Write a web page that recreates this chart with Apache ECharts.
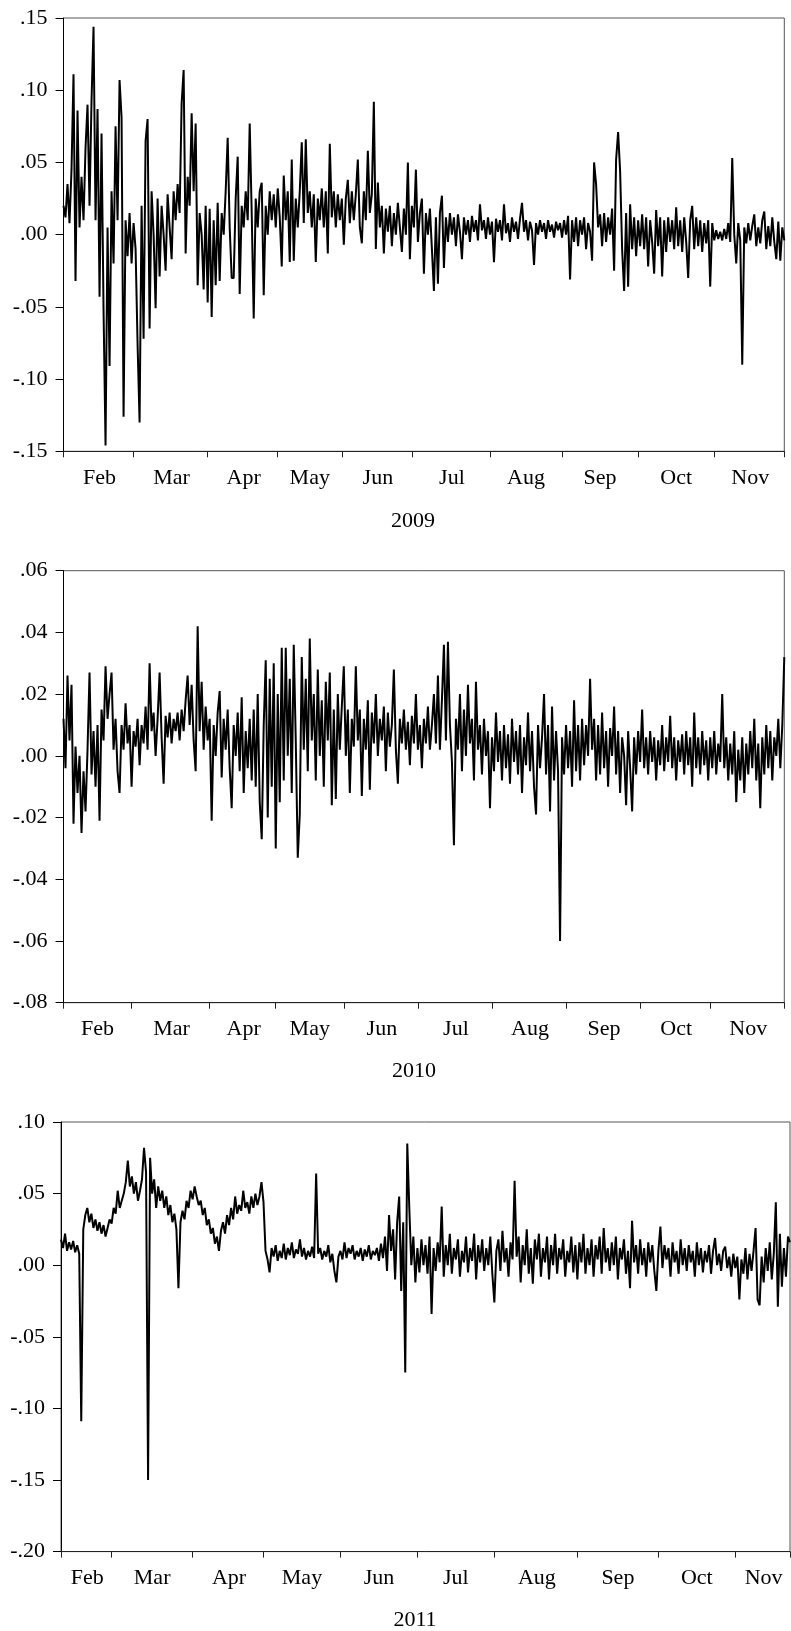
<!DOCTYPE html>
<html>
<head>
<meta charset="utf-8">
<script src="https://cdn.jsdelivr.net/npm/echarts@6/dist/echarts.min.js"></script>
<style>
  html, body { margin: 0; padding: 0; background: #fff; }
  #chart { width: 791px; height: 1631px; }
</style>
</head>
<body>
<div id="chart"></div>
<script>
// month names shown under every panel
const months = ['Feb', 'Mar', 'Apr', 'May', 'Jun', 'Jul', 'Aug', 'Sep', 'Oct', 'Nov'];
const years = ['2009', '2010', '2011'];

const monthCounts2009 = [35, 37, 35, 32, 35, 39, 36, 38, 38, 36];
const monthCounts2010 = [34, 39, 33, 34, 37, 37, 37, 37, 35, 38];
const monthCounts2011 = [25, 40, 35, 38, 38, 38, 41, 40, 38, 28];

// y axis ranges
const yRange2009 = [-0.15, 0.15, 0.05];
const yRange2010 = [-0.08, 0.06, 0.02];
const yRange2011 = [-0.20, 0.10, 0.05];

// series values
const values2009 = [
  .020, .012, .035, .008, .045, .111, -.032, .086, .005, .040,
  .010, .060, .090, .020, .093, .144, .010, .087, -.043, .070,
  -.052, -.146, .005, -.091, .030, -.020, .075, .010, .107, .081,
  -.126, .010, -.015, .015, -.020, .008, -.010, -.076, -.130, .020,
  -.072, .065, .080, -.065, .030, .000, -.051, .025, -.029, .020,
  .000, -.025, .028, .005, -.017, .030, .010, .035, .015, .091,
  .114, -.013, .040, .020, .084, .030, .077, -.035, .015, .000,
  -.038, .020, -.047, .018, -.057, .010, -.035, .022, -.032, .015,
  .000, .030, .067, .005, -.030, -.030, .025, .054, -.041, .020,
  .005, .030, .010, .077, .015, -.058, .025, .005, .030, .036,
  -.042, .020, .000, .030, .010, .028, .005, .032, .012, -.022,
  .041, .010, .030, -.019, .052, -.018, .025, .005, .030, .064,
  .008, .066, .015, .030, .005, .028, -.019, .025, .010, .032,
  .005, .030, -.013, .063, .012, .030, .005, .028, .010, .025,
  -.007, .025, .038, .008, .030, .010, .028, .052, .005, -.006,
  .030, .010, .058, .015, .028, .092, -.010, .036, .005, .020,
  -.013, .018, .002, .020, -.008, .015, .000, .022, .005, -.012,
  .018, .000, .050, -.017, .020, .005, .045, -.005, .015, .025,
  -.027, .015, .000, .018, -.010, -.039, .012, -.034, .015, .027,
  -.023, .012, -.005, .015, .000, .012, -.008, .014, .002, -.017,
  .012, .000, .010, -.005, .013, .002, .010, -.004, .021, .003,
  .010, -.003, .012, .000, .009, -.019, .011, .002, .010, -.004,
  .021, .001, .008, -.005, .012, .002, .009, -.003, .011, .022,
  .002, .010, -.004, .009, .003, -.021, .008, .000, .010, .002,
  .008, -.003, .010, .002, .007, -.002, .009, .003, .008, -.002,
  .010, .000, .013, -.031, .010, -.005, .012, -.008, .010, .000,
  .012, -.010, .008, .002, -.018, .050, .035, .005, .014, -.008,
  .015, -.005, .012, .000, .018, -.025, .052, .071, .044, -.010,
  -.039, .015, -.036, .021, -.010, .012, -.015, .010, -.008, .014,
  -.010, .012, -.022, .010, -.005, -.027, .017, -.008, .012, -.029,
  .010, -.012, .012, -.005, .010, -.010, .019, -.008, .010, -.012,
  .012, -.005, -.030, .010, .020, -.010, .012, -.008, .010, -.012,
  .008, -.006, .010, -.036, .008, -.004, .003, -.003, .002, -.004,
  .004, -.003, .008, -.005, .053, .000, -.020, .008, -.004, -.090,
  .005, -.006, .008, -.004, .006, .014, -.008, .005, -.006, .010,
  .016, -.010, .006, -.008, .012, -.005, -.017, .009, -.018, .005, -.004
];

const values2010 = [
  .012, -.004, .026, .005, .023, -.022, .003, -.012, .000, -.025,
  -.005, -.018, .002, .027, -.006, .008, -.010, .010, -.021, .015,
  .005, .029, .012, .020, .027, .002, .012, -.005, -.012, .010,
  .002, .017, .004, .010, -.010, .008, .003, .012, -.003, .010,
  .004, .016, .002, .030, .008, .014, .000, .012, .027, .006,
  -.009, .013, .006, .014, .004, .012, .008, .014, .005, .015,
  .008, .018, .026, .010, .023, .005, -.005, .042, .008, .024,
  .002, .016, .005, .012, -.021, .010, .000, .014, .021, -.007,
  .012, .002, .015, -.004, -.017, .010, .000, .014, -.005, .019,
  -.012, .008, -.004, .012, -.008, .015, -.010, .020, -.015, -.027,
  .010, .031, -.020, .025, -.010, .030, -.030, .020, -.015, .035,
  -.008, .035, .000, .025, -.012, .036, .005, -.033, -.019, .032,
  .002, .025, -.005, .038, .005, .020, -.008, .028, .000, .018,
  -.010, .024, .005, .027, -.016, .015, -.014, .020, .002, .016,
  .029, .000, .015, -.012, .012, .003, .029, .005, .015, -.013,
  .012, .002, .018, -.011, .014, .004, .020, .000, .012, .005,
  .016, -.005, .014, .003, .010, .028, .002, -.009, .012, .004,
  .015, .002, .011, -.003, .013, .004, .020, .002, .010, -.004,
  .012, .004, .016, .002, .010, .020, .004, .026, .002, .018,
  .036, .005, .037, .010, -.002, -.029, .012, .002, .020, -.005,
  .015, .000, .023, .004, .012, -.008, .024, .002, .010, -.006,
  .012, .000, .008, -.017, .006, -.005, .014, -.002, .008, -.008,
  .010, -.004, .007, -.009, .012, -.002, .008, -.006, .010, -.012,
  .006, -.003, .014, -.005, .008, -.010, -.019, .010, -.004, .006,
  .020, -.006, .010, -.018, .016, -.008, .008, -.005, -.060, .006,
  -.006, .010, -.004, .008, -.010, .018, -.005, .010, -.008, .012,
  -.003, .010, .000, .025, .002, .012, -.008, .010, -.006, .014,
  -.004, .008, -.010, .009, .000, .016, -.006, .008, -.012, .006,
  .000, -.016, .008, -.004, -.018, .006, -.006, .008, -.002, .015,
  -.004, .006, -.006, .008, -.002, .006, -.008, .005, -.003, .010,
  -.005, .006, -.002, .013, -.004, .006, -.008, .005, -.002, .007,
  -.006, .008, -.003, .006, -.010, .014, -.004, .006, -.006, .008,
  -.003, .005, -.008, .006, -.004, .008, -.006, .004, -.002, .020,
  -.004, .006, -.008, .004, -.006, .008, -.015, .002, -.008, .006,
  -.012, .004, -.006, .008, -.004, .012, -.008, .004, -.017, .006,
  -.006, .010, -.004, .008, -.008, .006, .000, .012, -.004, .010,
  .032
];

const values2011 = [
  .018, .012, .022, .010, .016, .011, .017, .009, .014, .008,
  -.109, .025, .035, .040, .030, .036, .026, .032, .024, .030,
  .022, .028, .020, .026, .032, .029, .040, .036, .052, .040,
  .045, .050, .058, .073, .055, .062, .050, .058, .045, .052,
  .060, .082, .065, -.150, .075, .050, .060, .040, .055, .045,
  .052, .040, .048, .035, .042, .030, .036, .025, -.016, .030,
  .038, .032, .045, .040, .052, .046, .055, .048, .042, .045,
  .035, .040, .028, .032, .022, .026, .015, .020, .010, .024,
  .030, .022, .035, .028, .040, .032, .048, .036, .042, .038,
  .052, .040, .044, .036, .048, .040, .050, .042, .048, .058,
  .044, .010, .004, -.005, .012, .006, .014, .003, .010, .005,
  .015, .004, .012, .007, .016, .005, .011, .008, .018, .006,
  .012, .004, .010, .006, .013, .005, .064, .008, .012, .004,
  .010, .006, .014, .002, .008, -.004, -.012, .006, .010, .004,
  .016, .005, .012, .008, .014, .004, .010, .006, .012, .003,
  .011, .006, .014, .004, .010, .007, .012, .003, .015, .005,
  .020, -.004, .035, .010, .025, -.010, .030, .048, -.018, .030,
  -.075, .085, .040, .000, .020, -.012, .012, -.005, .018, .000,
  .014, -.006, .020, -.034, .012, -.004, .016, .002, .041, -.008,
  .014, .000, .022, -.006, .012, .004, .018, -.008, .010, .002,
  .020, -.005, .012, .003, .022, -.010, .014, .002, .018, -.004,
  .012, .000, .020, -.006, -.026, .010, .018, -.004, .024, .002,
  .012, -.008, .016, .004, .059, .006, .020, -.012, .014, .000,
  .025, -.006, .012, -.013, .018, .004, .022, -.008, .012, .002,
  .020, -.010, .014, .000, .022, -.006, .012, .004, .018, -.008,
  .010, .002, .020, -.005, .014, -.010, .016, .002, .022, -.006,
  .012, .000, .018, -.008, .014, .004, .020, -.006, .026, .002,
  .012, -.004, .016, .000, .020, -.010, .012, .004, .018, -.006,
  .010, -.016, .031, .002, .014, -.006, .018, .000, .012, -.008,
  .016, .002, .014, -.004, -.018, .010, .027, -.002, .014, .004,
  .012, -.008, .016, .002, .010, -.006, .018, .000, .012, -.004,
  .014, .002, .010, -.008, .016, .000, .012, -.005, .010, .002,
  .014, -.006, .010, .019, .000, .008, -.004, .010, .013, -.002,
  .006, -.008, .008, -.002, .006, -.024, .004, -.006, .012, -.010,
  .008, -.004, .010, .026, -.024, -.028, .006, -.012, .012, -.004,
  .016, -.010, .008, .044, -.029, .022, -.015, .012, -.008, .020, .016
];

const FONT = 'Liberation Serif';

// 把每月观测数展开成类目轴：月界画刻度，月中放标签
function buildAxis(counts) {
    const cats = [];
    const ticks = new Set();
    const labels = new Map();
    let start = 0;
    counts.forEach((c, k) => {
        for (let j = 0; j < c; j++) cats.push(months[k] + ' ' + (j + 1));
        ticks.add(start);
        labels.set(start + Math.round(c / 2), months[k]);
        start += c;
    });
    ticks.add(cats.length - 1);
    return { cats, ticks, labels };
}

const fmtY = v => v.toFixed(2).replace(/^(-?)0\./, '$1.');

const panels = [
    { counts: monthCounts2009, values: values2009, range: yRange2009, grid: { left: 63.5, right: 6.7, top: 18, height: 433.3 }, yearY: 521.7, yearX: 413 },
    { counts: monthCounts2010, values: values2010, range: yRange2010, grid: { left: 63.5, right: 6.7, top: 570.7, height: 432 }, yearY: 1071.7, yearX: 414 },
    { counts: monthCounts2011, values: values2011, range: yRange2011, grid: { left: 61, right: 1, top: 1122, height: 429.6 }, yearY: 1620.7, yearX: 415 }
];

const option = { animation: false, grid: [], xAxis: [], yAxis: [], series: [], graphic: [] };

panels.forEach((p, n) => {
    const ax = buildAxis(p.counts);
    option.grid.push(Object.assign({ show: true, borderColor: '#555', borderWidth: 1, backgroundColor: 'transparent' }, p.grid));
    option.xAxis.push({
        type: 'category',
        gridIndex: n,
        data: ax.cats,
        boundaryGap: false,
        axisLine: { onZero: false, lineStyle: { color: '#222', width: 1 } },
        axisTick: {
            interval: idx => ax.ticks.has(idx),
            length: 6,
            lineStyle: { color: '#222' }
        },
        axisLabel: {
            interval: idx => ax.labels.has(idx),
            formatter: (val, idx) => ax.labels.get(idx) || '',
            margin: 16,
            color: '#000',
            fontFamily: FONT,
            fontSize: 22
        },
        splitLine: { show: false }
    });
    option.yAxis.push({
        type: 'value',
        gridIndex: n,
        min: p.range[0],
        max: p.range[1],
        interval: p.range[2],
        axisLine: { show: true, onZero: false, lineStyle: { color: '#000', width: 1 } },
        axisTick: { show: true, length: 8, lineStyle: { color: '#000' } },
        axisLabel: { formatter: fmtY, margin: 16, color: '#000', fontFamily: FONT, fontSize: 22 },
        splitLine: { show: false }
    });
    option.series.push({
        type: 'line',
        xAxisIndex: n,
        yAxisIndex: n,
        data: p.values,
        symbol: 'none',
        lineStyle: { color: '#000', width: 2 },
        silent: true
    });
    option.graphic.push({
        type: 'text',
        x: p.yearX,
        y: p.yearY,
        style: { text: years[n], fill: '#000', font: '22px "' + FONT + '"', textAlign: 'center', textVerticalAlign: 'middle' }
    });
});

const chart = echarts.init(document.getElementById('chart'), null, { renderer: 'canvas' });
chart.setOption(option);
</script>
</body>
</html>
